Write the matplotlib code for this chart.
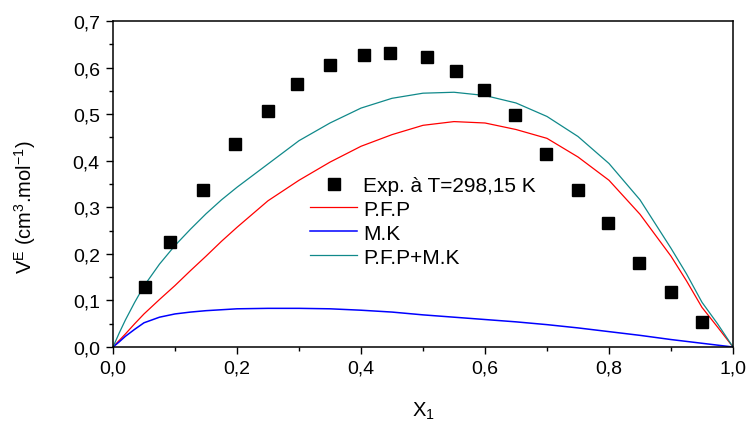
import matplotlib
matplotlib.use("Agg")
import matplotlib.pyplot as plt
from matplotlib.ticker import MultipleLocator, FixedLocator

plt.rcParams['font.family'] = ['Liberation Sans', 'DejaVu Sans']
plt.rcParams['mathtext.default'] = 'regular'
plt.rcParams['axes.spines.top'] = True
plt.rcParams['axes.spines.right'] = True

# Experimental points
x_exp = [0.052, 0.092, 0.145, 0.197, 0.250, 0.297, 0.350, 0.405, 0.447, 0.506,
         0.553, 0.598, 0.648, 0.698, 0.750, 0.798, 0.848, 0.900, 0.950]
v_exp = [0.129, 0.225, 0.337, 0.436, 0.507, 0.565, 0.606, 0.627, 0.631, 0.623,
         0.593, 0.552, 0.498, 0.414, 0.337, 0.266, 0.180, 0.118, 0.054]

# Model curves
x_curve = [0.0, 0.01, 0.02, 0.035, 0.05, 0.075, 0.1, 0.125, 0.15, 0.175, 0.2,
           0.25, 0.3, 0.35, 0.4, 0.45, 0.5, 0.55, 0.6, 0.65, 0.7,
           0.75, 0.8, 0.85, 0.9, 0.925, 0.95, 0.975, 1.0]
v_pfp = [0.0, 0.014, 0.028, 0.050, 0.071, 0.102, 0.132, 0.164, 0.195, 0.227, 0.257,
         0.314, 0.358, 0.397, 0.431, 0.456, 0.476, 0.484, 0.481, 0.467, 0.448,
         0.408, 0.358, 0.285, 0.195, 0.142, 0.085, 0.043, 0.0]
v_mk = [0.0, 0.011, 0.023, 0.038, 0.052, 0.064, 0.071, 0.075, 0.078, 0.080, 0.082,
        0.083, 0.083, 0.082, 0.079, 0.075, 0.069, 0.064, 0.059, 0.054, 0.048,
        0.041, 0.033, 0.025, 0.016, 0.012, 0.008, 0.004, 0.0]
v_pfp_mk = [0.0, 0.030, 0.058, 0.096, 0.131, 0.178, 0.218, 0.253, 0.286, 0.316, 0.343,
            0.393, 0.443, 0.481, 0.513, 0.534, 0.545, 0.547, 0.540, 0.524, 0.495,
            0.452, 0.394, 0.316, 0.212, 0.157, 0.096, 0.050, 0.0]

x_ticks = [0.0, 0.2, 0.4, 0.6, 0.8, 1.0]
x_ticklabels = ["0,0", "0,2", "0,4", "0,6", "0,8", "1,0"]
y_ticks = [0.0, 0.1, 0.2, 0.3, 0.4, 0.5, 0.6, 0.7]
y_ticklabels = ["0,0", "0,1", "0,2", "0,3", "0,4", "0,5", "0,6", "0,7"]

fig = plt.figure(figsize=(7.48, 4.31), dpi=100)
ax = fig.add_axes([113/748, 1-348/431, 620/748, 326/431])
ax.set_frame_on(True)

ax.plot(x_exp, v_exp, 's', color='black', markersize=8.5, label='Exp. à T=298,15 K', zorder=5)
ax.plot(x_curve, v_pfp, '-', color='#ff0000', lw=0.9, label='P.F.P')
ax.plot(x_curve, v_mk, '-', color='#0000ff', lw=1.1, label='M.K')
ax.plot(x_curve, v_pfp_mk, '-', color='#10898a', lw=0.9, label='P.F.P+M.K')

ax.set_xlim(0, 1.0)
ax.set_ylim(0, 0.7)
ax.xaxis.set_major_locator(FixedLocator(x_ticks))
ax.set_xticklabels(x_ticklabels)
ax.yaxis.set_major_locator(FixedLocator(y_ticks))
ax.set_yticklabels(y_ticklabels)
ax.xaxis.set_minor_locator(MultipleLocator(0.1))
ax.yaxis.set_minor_locator(MultipleLocator(0.05))
ax.tick_params(which='major', direction='out', length=5, width=1.0, labelsize=14,
               top=False, right=False)
ax.tick_params(axis='x', which='major', pad=4)
ax.tick_params(axis='y', which='major', pad=4.5)
ax.tick_params(which='minor', direction='out', length=2.8, width=1.0, top=False, right=False)
for side in ['left', 'bottom', 'top', 'right']:
    sp = ax.spines[side]
    sp.set_visible(True)
    sp.set_color('black')
    sp.set_linewidth(1.1)
    sp.set_zorder(10)

ax.set_xlabel('X$_1$', fontsize=14.5)
ax.xaxis.set_label_coords(0.5, -0.163)
ax.set_ylabel('V$^E$ (cm$^3$.mol$^{-1}$)', fontsize=14.5)
ax.yaxis.set_label_coords(-0.121, 0.433)

leg = ax.legend(loc='upper left', bbox_to_anchor=(0.318, 0.525), frameon=False,
                fontsize=15, handlelength=2.26, handletextpad=0.3, labelspacing=0.235,
                borderaxespad=0, borderpad=0)

fig.savefig('out.png', dpi=100)
